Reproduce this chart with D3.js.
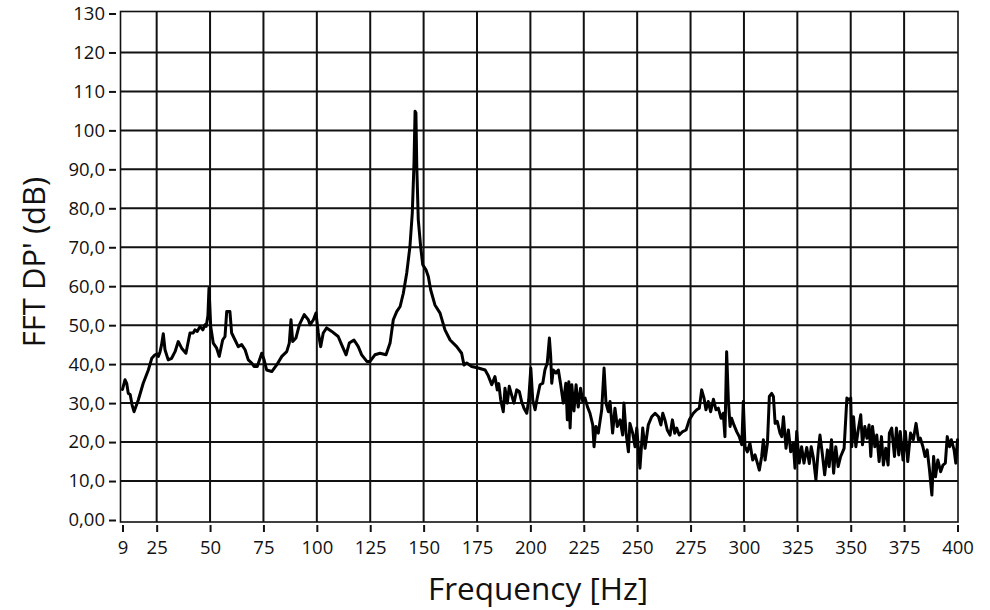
<!DOCTYPE html>
<html>
<head>
<meta charset="utf-8">
<script src="https://cdn.jsdelivr.net/npm/d3@7"></script>
<style>
  html, body { margin: 0; padding: 0; background: #fff; }
  svg { display: block; }
  text { font-family: "Open Sans", "Noto Sans", sans-serif; fill: #111; }
</style>
</head>
<body>
<svg id="chart" width="990" height="610"></svg>
<script>
// ---- data ----
const freqHz = [
  9, 10.2, 11, 11.7, 12.6, 13.5, 14.4, 16.4, 18.7, 21.1, 22.7, 24.2, 25.3, 25.8, 26.6, 27.3, 28.1, 28.9, 30.4, 32,
  33.6, 35.1, 36.7, 38.7, 40.6, 42.1, 42.9, 44, 45.3, 46.6, 47.6, 48.2, 49, 49.5, 50.3, 51.5, 53.1, 54.3, 55.9, 57,
  57.8, 59.3, 60.1, 61.7, 63.2, 64.8, 66.4, 67.9, 69.5, 70.6, 72.1, 74.2, 75.3, 76.5, 78.9, 81.2, 83.6, 85.9, 87.1, 87.9,
  88.7, 90.2, 91.8, 94.1, 96, 96.8, 98.4, 99.6, 100.7, 101.8, 103, 104.6, 107, 110, 111.6, 113.7, 115.2, 117.4, 119.4, 121,
  123.4, 124.9, 127.2, 129.6, 132.4, 134.3, 135.8, 137.4, 139, 140.5, 142.1, 143.6, 144.7, 145.5, 146, 146.4, 146.8, 147.5, 148.6, 149.6,
  151.1, 152.2, 153.3, 155.3, 157.7, 160, 162.4, 165.5, 167.8, 168.9, 170.2, 172.5, 175.6, 178.8, 180.3, 181.9, 183.4, 184.5, 185.2, 186.1,
  187.3, 188.1, 189.2, 190.1, 191.2, 192.3, 193.6, 194.8, 195.9, 197, 198.3, 199.2, 200.2, 201.1, 202.2, 203.2, 204.5, 205.8, 206.8, 207.9,
  208.9, 209.5, 210, 210.7, 212, 213.1, 214.2, 215.4, 216.6, 217.3, 218, 218.6, 219.4, 220.4, 221.4, 222.4, 223.5, 224.5, 225.6, 226.7,
  227.9, 229.2, 229.8, 230.7, 231.8, 233.4, 234.5, 235.4, 236.5, 237.3, 238.5, 239.6, 240.7, 242, 243.2, 243.8, 244.8, 245.9, 246.6, 247.9,
  249, 249.8, 251.3, 252.6, 253.7, 255.2, 256.8, 258.4, 260, 261.1, 262, 263, 264.1, 265.4, 266.5, 267.6, 268.5, 269.7, 271.3, 272.9,
  274.4, 276.3, 277.9, 279.1, 280.2, 281.3, 282.2, 283.3, 284.4, 285.7, 286.9, 288, 289.3, 290.3, 291.1, 291.9, 292.7, 293.5, 294.2, 295.3,
  296.6, 297.8, 299, 299.7, 300.5, 301.6, 302.8, 304.1, 305.2, 306.3, 307.2, 308.3, 309.1, 309.9, 311, 311.9, 313, 313.8, 314.6, 315.6,
  316.9, 317.7, 318.5, 319.7, 320.8, 321.9, 323.1, 323.9, 324.7, 325.9, 327, 328.1, 329.4, 330.6, 331.5, 332.5, 333.7, 334.8, 335.6, 336.7,
  337.8, 339.1, 339.9, 341, 342, 343, 344.1, 345.3, 346.9, 348.2, 349.3, 350, 350.5, 351.3, 352.4, 353.5, 354.7, 355.5, 356.6, 357.6,
  358.6, 359.4, 360.2, 361.3, 362.2, 363.3, 364.4, 365.3, 366.4, 367.5, 368.1, 369.2, 370.5, 371.4, 372.5, 373.2, 374.5, 375.6, 376.7, 378,
  379.3, 380.6, 381.7, 382.6, 383.8, 384.8, 385.8, 386.9, 388, 388.8, 389.7, 390.8, 392.1, 393.2, 394.3, 395.2, 396.3, 397.1, 398.4, 399.2,
  400
];
const fftDb = [
  33.5, 36, 35, 32.5, 32.2, 29.5, 27.8, 30.8, 35.1, 38.5, 41.5, 42.4, 42.6, 42, 43.2, 45, 47.8, 43.7, 41.1, 41.5,
  43.2, 45.8, 44.1, 42.8, 48, 48, 48.8, 48.4, 49.7, 48.8, 50.1, 49.7, 52.5, 59.5, 49.7, 45.4, 44.1, 42, 46.2, 47.1,
  53.5, 53.5, 48, 46.2, 44.5, 45, 43.7, 41.1, 40.3, 39.4, 39.4, 42.8, 41.1, 38.5, 38.1, 39.8, 42, 43.2, 45.4, 51.4,
  45.8, 46.7, 50.1, 52.7, 51.4, 50.1, 51.4, 53.1, 48, 44.5, 48, 49.3, 48.4, 47.1, 45, 42.4, 45.4, 46.2, 44.5, 42.4,
  40.7, 40.7, 42.4, 42.8, 42.4, 45.4, 51.4, 53.5, 54.8, 58.2, 63.4, 70.2, 78.8, 91.6, 104.9, 104.5, 90.8, 77.1, 70.2, 65.5,
  64.2, 62.5, 59.1, 55.2, 53.1, 48.8, 46.2, 44.5, 42.8, 39.8, 40.3, 39.4, 39, 38.5, 37, 34.7, 36.8, 33.4, 35, 30.8,
  27.8, 33.8, 30, 34.3, 32.1, 30, 33.4, 33, 30.4, 28.7, 27.4, 30.8, 39, 30.8, 28.3, 31.3, 34.7, 35.1, 38.5, 40.3,
  46.7, 42, 35.1, 38.5, 37.7, 38.5, 34.7, 30, 35.1, 25.7, 35.5, 23.6, 34.7, 28, 34.7, 29, 33.8, 30.5, 31.3, 29.1,
  27.4, 24.4, 18.8, 24, 22.3, 28.3, 39, 30, 27.8, 30.4, 22.3, 28.7, 24, 25.7, 21.8, 30, 22.3, 17.5, 24.8, 22.3,
  18.8, 23.6, 13.3, 23.6, 18.4, 24.4, 26.5, 27.4, 26.5, 24.4, 27.4, 25.7, 23.1, 21.8, 25.7, 22.3, 23.6, 21.8, 22.7, 23.1,
  25.7, 27.4, 28.3, 28.7, 33.4, 31.3, 28.3, 30.4, 27.8, 31, 28.3, 28.7, 26.1, 27.4, 21.4, 43.2, 30.8, 24, 26.1, 24.4,
  22.7, 21.4, 19.3, 30.4, 18.8, 17.5, 19.7, 15.4, 16.7, 14.6, 12.8, 16.3, 20.6, 15.4, 19.7, 31.7, 32.5, 31.7, 24.8, 25.3,
  22.3, 21.4, 26.5, 18.4, 23.1, 17.5, 19.7, 13.3, 22.7, 14.6, 18.8, 14.6, 18.6, 14.5, 18.8, 16, 10.3, 18, 21.8, 17,
  11.6, 18, 13.7, 20.6, 12, 18.8, 13.7, 16.3, 18.4, 31.3, 30.8, 31.3, 18.8, 26.5, 18.8, 23.1, 27, 19.3, 24, 21,
  24.4, 16.3, 24, 18.8, 21.8, 15, 21.4, 14.1, 18.4, 14.1, 22.3, 23.6, 16.3, 23.6, 16.7, 22.7, 15.4, 22.7, 15, 22.3,
  20.6, 24.8, 20.6, 21, 18.8, 16.3, 18, 12.8, 6.4, 16.3, 11.1, 15.4, 12.4, 14.1, 14.6, 21.4, 18.8, 20.6, 18, 14.6,
  20.6
];
const xTickValues = [9, 25, 50, 75, 100, 125, 150, 175, 200, 225, 250, 275, 300, 325, 350, 375, 400];
const xTickLabels = ["9", "25", "50", "75", "100", "125", "150", "175", "200", "225", "250", "275", "300", "325", "350", "375", "400"];
const yTickValues = [0, 10, 20, 30, 40, 50, 60, 70, 80, 90, 100, 110, 120, 130];
const yTickLabels = ["0,00", "10,0", "20,0", "30,0", "40,0", "50,0", "60,0", "70,0", "80,0", "90,0", "100", "110", "120", "130"];
const xGridValues = [25, 50, 75, 100, 125, 150, 175, 200, 225, 250, 275, 300, 325, 350, 375];
const yGridValues = [10, 20, 30, 40, 50, 60, 70, 80, 90, 100, 110, 120];
const xTitle = "Frequency [Hz]";
const yTitle = "FFT DP' (dB)";

// ---- drawing ----
const svg = d3.select("#chart");
const x = d3.scaleLinear().domain([9, 400]).range([122.5, 957.5]);
const y = d3.scaleLinear().domain([0, 130]).range([520, 13.5]);
const frame = { left: 120.5, right: 958, top: 11.5, bottom: 522 };

// grid
svg.append("g").selectAll("line").data(yGridValues).join("line")
  .attr("x1", frame.left).attr("x2", frame.right)
  .attr("y1", d => y(d)).attr("y2", d => y(d))
  .attr("stroke", "#111").attr("stroke-width", 2);
svg.append("g").selectAll("line").data(xGridValues).join("line")
  .attr("y1", frame.top).attr("y2", frame.bottom)
  .attr("x1", d => x(d)).attr("x2", d => x(d))
  .attr("stroke", "#111").attr("stroke-width", 2);

// frame
svg.append("rect")
  .attr("x", frame.left).attr("y", frame.top)
  .attr("width", frame.right - frame.left).attr("height", frame.bottom - frame.top)
  .attr("fill", "none").attr("stroke", "#111").attr("stroke-width", 1.6);

// data line
const pts = freqHz.map((f, i) => [f, fftDb[i]]);
svg.append("path")
  .datum(pts)
  .attr("fill", "none")
  .attr("stroke", "#000")
  .attr("stroke-width", 3)
  .attr("stroke-linejoin", "round")
  .attr("stroke-linecap", "round")
  .attr("d", d3.line().x(d => x(d[0])).y(d => y(d[1])));

// axes
const xAxis = d3.axisBottom(x)
  .tickValues(xTickValues)
  .tickFormat((d, i) => xTickLabels[i])
  .tickSize(7).tickPadding(9);
const gx = svg.append("g").attr("transform", "translate(0,525)").call(xAxis);
gx.select(".domain").remove();
gx.selectAll(".tick line").attr("stroke", "#111").attr("stroke-width", 2);
gx.selectAll(".tick text").attr("font-size", 18.5).attr("fill", "#111")
  .attr("font-family", "'Open Sans', sans-serif");

const yAxis = d3.axisLeft(y)
  .tickValues(yTickValues)
  .tickFormat((d, i) => yTickLabels[i])
  .tickSize(7).tickPadding(4);
const gy = svg.append("g").attr("transform", "translate(116,0)").call(yAxis);
gy.select(".domain").remove();
gy.selectAll(".tick line").attr("stroke", "#111").attr("stroke-width", 2);
gy.selectAll(".tick text").attr("font-size", 18.5).attr("fill", "#111")
  .attr("font-family", "'Open Sans', sans-serif");

// titles
svg.append("text")
  .attr("x", 538).attr("y", 600)
  .attr("text-anchor", "middle")
  .attr("font-size", 31.5)
  .text(xTitle);
svg.append("text")
  .attr("transform", "translate(45,262) rotate(-90)")
  .attr("text-anchor", "middle")
  .attr("font-size", 31)
  .text(yTitle);
</script>
</body>
</html>
